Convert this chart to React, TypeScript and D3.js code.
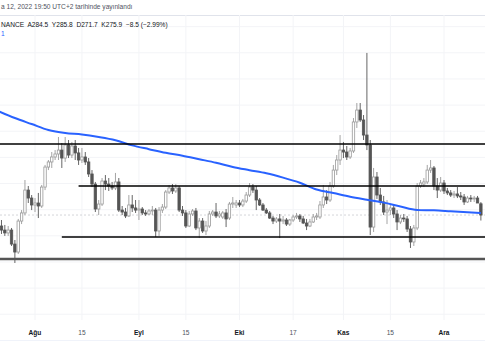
import * as d3 from "d3";

// daily candles, Jul 21 2022 → Dec 12 2022
const START = Date.UTC(2022, 6, 21);
const END = Date.UTC(2022, 11, 13);

const open = [
  265.2, 267.5, 264.4, 262.2, 264.4, 253.7, 247.6, 271.3, 277.5, 295.0,
  288.9, 283.6, 285.1, 282.8, 297.3, 312.6, 316.5, 320.3, 322.6, 325.6,
  319.5, 329.5, 321.8, 328.7, 323.4, 318.0, 320.3, 316.5, 307.3, 299.6,
  280.5, 284.3, 301.9, 299.6, 298.1, 296.6, 301.2, 279.7, 278.2, 275.2,
  283.6, 281.3, 279.7, 280.5, 277.5, 276.7, 279.0, 279.7, 263.7, 279.7,
  282.0, 293.5, 296.6, 294.3, 296.6, 279.7, 277.5, 267.5, 276.7, 279.0,
  266.0, 271.3, 263.7, 267.5, 276.7, 278.2, 275.2, 274.4, 277.5, 273.6,
  284.3, 283.6, 285.1, 283.6, 286.6, 291.2, 297.3, 295.0, 287.4, 283.6,
  279.7, 277.5, 273.6, 271.3, 272.9, 271.3, 272.1, 269.0, 272.1, 274.4,
  275.2, 272.9, 269.8, 267.5, 270.6, 274.4, 274.4, 283.6, 289.7, 287.4,
  298.1, 310.3, 318.0, 325.6, 324.1, 320.3, 324.9, 347.1, 356.2, 348.6,
  337.1, 329.5, 266.7, 305.0, 291.2, 285.9, 278.2, 279.7, 281.3, 276.7,
  270.6, 273.6, 272.9, 265.2, 255.3, 266.0, 298.1, 299.6, 301.2, 310.3,
  311.9, 298.1, 295.0, 300.4, 294.3, 292.8, 291.2, 292.0, 290.5, 289.7,
  285.9, 288.9, 288.2, 288.9, 284.5,
];
const high = [
  270.6, 272.1, 268.3, 267.5, 266.0, 256.8, 272.9, 279.7, 302.7, 298.1,
  291.2, 288.9, 292.8, 298.9, 314.2, 318.0, 324.1, 325.6, 335.6, 331.0,
  335.6, 333.3, 331.8, 333.3, 327.2, 327.2, 324.1, 319.5, 310.3, 301.2,
  287.4, 304.2, 306.5, 304.2, 301.2, 308.1, 304.2, 282.8, 281.3, 291.2,
  291.2, 287.4, 287.4, 282.0, 279.7, 280.5, 282.8, 281.3, 282.0, 284.3,
  295.0, 298.9, 299.6, 299.6, 298.1, 282.8, 279.7, 279.0, 280.5, 281.3,
  273.6, 273.6, 271.3, 279.0, 279.7, 285.1, 279.0, 279.0, 280.5, 285.9,
  289.7, 287.4, 287.4, 288.2, 293.5, 300.4, 299.6, 298.1, 288.9, 285.1,
  281.3, 279.0, 275.2, 274.4, 276.7, 275.2, 273.6, 272.9, 275.9, 277.5,
  276.7, 275.2, 272.9, 272.9, 276.7, 277.5, 286.6, 298.9, 295.0, 301.2,
  314.2, 321.8, 337.1, 331.8, 328.7, 327.2, 350.1, 361.6, 361.6, 352.4,
  399.9, 333.3, 311.9, 308.8, 296.6, 290.5, 287.4, 283.6, 283.6, 279.7,
  275.9, 276.7, 275.2, 267.5, 268.3, 300.4, 302.7, 304.2, 314.2, 318.0,
  313.4, 304.2, 305.0, 302.7, 296.6, 295.0, 294.3, 297.3, 293.5, 292.0,
  290.5, 291.2, 290.5, 290.5, 285.8,
];
const low = [
  259.9, 261.4, 259.9, 259.9, 252.2, 239.2, 246.1, 269.0, 275.9, 285.1,
  279.7, 278.2, 273.6, 281.3, 295.0, 310.3, 311.9, 318.0, 318.0, 311.9,
  316.5, 319.5, 319.5, 318.0, 314.2, 315.7, 314.2, 305.0, 297.3, 278.2,
  275.9, 282.8, 295.0, 294.3, 295.0, 295.0, 278.2, 275.9, 273.6, 274.4,
  278.2, 277.5, 272.1, 275.9, 275.2, 275.9, 275.9, 259.1, 259.9, 277.5,
  280.5, 292.0, 292.0, 292.8, 278.2, 275.2, 266.0, 266.7, 275.2, 264.4,
  258.3, 262.2, 260.6, 266.0, 275.2, 273.6, 273.6, 272.9, 266.7, 272.1,
  281.3, 281.3, 282.0, 282.0, 285.1, 289.7, 292.8, 279.7, 282.8, 279.0,
  276.7, 272.9, 269.0, 269.8, 258.3, 269.0, 267.5, 267.5, 270.6, 272.9,
  270.6, 269.0, 264.4, 266.7, 269.8, 272.1, 272.9, 281.3, 284.3, 285.9,
  296.6, 306.5, 314.2, 319.5, 318.0, 318.8, 323.4, 342.5, 347.1, 333.3,
  325.6, 260.6, 262.9, 288.2, 283.6, 275.9, 269.0, 275.9, 273.6, 264.4,
  269.0, 270.6, 262.9, 250.7, 252.2, 264.4, 296.6, 297.3, 299.6, 308.1,
  295.0, 288.9, 293.5, 292.0, 291.2, 289.7, 288.9, 288.9, 287.4, 283.6,
  285.1, 285.9, 285.9, 285.1, 271.7,
];
const close = [
  267.5, 264.4, 262.2, 264.4, 253.7, 247.6, 271.3, 277.5, 295.0, 288.9,
  283.6, 285.1, 282.8, 297.3, 312.6, 316.5, 320.3, 322.6, 325.6, 319.5,
  329.5, 321.8, 328.7, 323.4, 318.0, 320.3, 316.5, 307.3, 299.6, 280.5,
  284.3, 301.9, 299.6, 298.1, 296.6, 301.2, 279.7, 278.2, 275.2, 283.6,
  281.3, 279.7, 280.5, 277.5, 276.7, 279.0, 279.7, 263.7, 279.7, 282.0,
  293.5, 296.6, 294.3, 296.6, 279.7, 277.5, 267.5, 276.7, 279.0, 266.0,
  271.3, 263.7, 267.5, 276.7, 278.2, 275.2, 276.7, 277.5, 272.9, 284.3,
  285.1, 285.1, 283.6, 286.6, 291.2, 297.3, 295.0, 287.4, 283.6, 279.7,
  277.5, 273.6, 271.3, 272.9, 271.3, 272.1, 269.0, 272.1, 274.4, 275.2,
  272.9, 269.8, 267.5, 270.6, 274.4, 275.2, 283.6, 289.7, 287.4, 298.1,
  310.3, 318.0, 325.6, 324.1, 320.3, 324.9, 347.1, 356.2, 348.6, 337.1,
  329.5, 266.7, 305.0, 291.2, 285.9, 278.2, 279.7, 281.3, 276.7, 270.6,
  273.6, 272.9, 265.2, 255.3, 266.0, 298.1, 300.4, 301.2, 310.3, 311.9,
  298.1, 295.0, 300.4, 294.3, 292.8, 291.2, 292.0, 290.5, 289.7, 285.9,
  288.9, 288.2, 288.9, 285.1, 275.9,
];

// moving average, sampled every 5 days (day index from Jul 21)
const maDay = [0, 5, 10, 15, 20, 25, 30, 35, 40, 45, 50, 55, 60, 65, 70, 75, 80, 85, 90, 95, 100, 105, 110, 115, 120, 125, 130, 135, 140, 144];
const maValue = [
  355.5, 350.1, 345.5, 340.9, 338.6, 337.5, 335.6, 333.1, 329.2, 326.3,
  323.5, 321.3, 318.6, 315.9, 312.7, 310.2, 307.8, 304.5, 300.6, 295.4,
  292.7, 289.9, 287.6, 285.4, 282.4, 279.8, 279.5, 278.8, 278.1, 277.5,
];

// drawn horizontal levels: price, start day (index from Jul 21)
const levelPrice = [330.2, 298.1, 259.1, 242.3];
const levelStart = [-2, 24, 19, -2];
const levelColor = ["#000000", "#000000", "#000000", "#555555"];
const levelWidth = [1.6, 1.6, 1.6, 2.6];

const tickDates = [
  Date.UTC(2022, 7, 1), Date.UTC(2022, 7, 15), Date.UTC(2022, 8, 1), Date.UTC(2022, 8, 15),
  Date.UTC(2022, 9, 1), Date.UTC(2022, 9, 17), Date.UTC(2022, 10, 1), Date.UTC(2022, 10, 15),
  Date.UTC(2022, 11, 1),
];
const tickLabels = ["Ağu", "15", "Eyl", "15", "Eki", "17", "Kas", "15", "Ara"];
const gridPrices = d3.range(200, 421, 20);

const W = 485;
const H = 360;
const PANE_TOP = 15;
const PANE_BOTTOM = 320;
const FONT = "'Liberation Sans', Arial, sans-serif";

export default function App() {
  const dates = d3.utcDay.range(new Date(START), new Date(END));
  const x = d3.scaleUtc().domain([Date.UTC(2022, 7, 1), Date.UTC(2022, 11, 1)]).range([35, 444]);
  const y = d3.scaleLinear().domain([195.6, 440.4]).range([320, 0]);
  const dayX = (i: number) => x(d3.utcDay.offset(new Date(START), i));

  const maLine = d3
    .line<number>()
    .x((d) => dayX(d))
    .y((_, i) => y(maValue[i]))
    .curve(d3.curveMonotoneX);

  const bodyW = 2.4;
  const lastClose = close[close.length - 1];

  return (
    <div style={{ position: "fixed", left: 0, top: 0 }}>
      <svg width={W} height={H} style={{ display: "block", background: "#fff" }} fontFamily={FONT}>
        <defs>
          <clipPath id="pane">
            <rect x={0} y={PANE_TOP} width={W} height={PANE_BOTTOM - PANE_TOP} />
          </clipPath>
        </defs>

        {/* title */}
        <text x={1} y={9} fontSize={6.6} fill="#50535e">
          a 12, 2022 19:50 UTC+2 tarihinde yayınlandı
        </text>
        <line x1={0} x2={W} y1={PANE_TOP + 0.5} y2={PANE_TOP + 0.5} stroke="#e0e3eb" />

        {/* grid */}
        {gridPrices.map((p) => (
          <line key={"h" + p} x1={0} x2={W} y1={y(p)} y2={y(p)} stroke="#f3f4f7" strokeWidth={1} />
        ))}
        {tickDates.map((t) => (
          <line key={"v" + t} x1={x(t)} x2={x(t)} y1={PANE_TOP} y2={PANE_BOTTOM} stroke="#f3f4f7" strokeWidth={1} />
        ))}

        {/* legend */}
        <text x={1} y={27} fontSize={6.6} fill="#131722" style={{ whiteSpace: "pre" }}>
          NANCE  A284.5  Y285.8  D271.7  K275.9  −8.5 (−2.99%)
        </text>
        <text x={1} y={36} fontSize={6.6} fill="#2962ff">1</text>

        <g clipPath="url(#pane)">
          {/* last price line */}
          <line x1={0} x2={W} y1={y(lastClose)} y2={y(lastClose)} stroke="#c9cbd1" strokeDasharray="2,2" strokeWidth={0.8} />

          {/* candles */}
          {dates.map((d, i) => {
            const cx = x(d);
            const up = close[i] >= open[i];
            const top = y(Math.max(open[i], close[i]));
            const bot = y(Math.min(open[i], close[i]));
            const col = up ? "#9a9a9a" : "#555555";
            return (
              <g key={i}>
                <line x1={cx} x2={cx} y1={y(high[i])} y2={y(low[i])} stroke={col} strokeWidth={0.9} />
                <rect
                  x={cx - bodyW / 2}
                  y={top}
                  width={bodyW}
                  height={Math.max(bot - top, 0.8)}
                  fill={up ? "#ffffff" : col}
                  stroke={col}
                  strokeWidth={0.8}
                />
              </g>
            );
          })}

          {/* moving average */}
          <path d={maLine(maDay) ?? ""} fill="none" stroke="#2962ff" strokeWidth={2} />

          {/* drawn levels */}
          {levelPrice.map((p, i) => (
            <line
              key={"l" + i}
              x1={dayX(levelStart[i])}
              x2={W}
              y1={y(p)}
              y2={y(p)}
              stroke={levelColor[i]}
              strokeWidth={levelWidth[i]}
            />
          ))}
        </g>

        {/* time axis */}
        {tickDates.map((t, i) => {
          const major = !/^\d+$/.test(tickLabels[i]);
          return (
            <text
              key={"t" + t}
              x={x(t)}
              y={334.5}
              textAnchor="middle"
              fontSize={6.6}
              fontWeight={major ? "bold" : "normal"}
              fill={major ? "#131722" : "#50535e"}
            >
              {tickLabels[i]}
            </text>
          );
        })}
        <line x1={0} x2={W} y1={340.5} y2={340.5} stroke="#f0f3fa" />
      </svg>
    </div>
  );
}
